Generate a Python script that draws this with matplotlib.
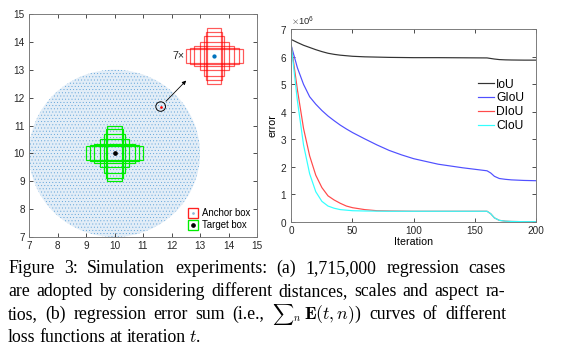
import numpy as np
import matplotlib.pyplot as plt
from matplotlib.patches import Rectangle, Circle
from matplotlib.lines import Line2D
from matplotlib.legend_handler import HandlerTuple
from matplotlib.ticker import ScalarFormatter

plt.rcParams['font.family'] = ['Liberation Sans', 'DejaVu Sans']
plt.rcParams['mathtext.fontset'] = 'cm'
plt.rcParams['hatch.linewidth'] = 0.25

# (a) simulation set-up
cloud_center = (10, 10)
cloud_radius = 3
target_center = (10, 10)
anchor_center = (13.5, 13.5)
ratios = [1/4, 1/3, 1/2, 1, 2, 3, 4]      # w/h, area 1
picked_anchor = (11.62, 11.68)
arrow_tip = (12.58, 12.68)

# (b) regression error sum (x 1e6)
iters = [0, 5, 10, 15, 20, 25, 30, 35, 40, 45, 50, 60, 70, 80, 90, 100,
         120, 140, 160, 163, 166, 170, 175, 180, 190, 200]
err_iou = [6.63, 6.52, 6.42, 6.34, 6.26, 6.19, 6.13, 6.09, 6.06, 6.04, 6.02, 6.0, 5.99, 5.98, 5.975, 5.97,
           5.97, 5.965, 5.96, 5.94, 5.92, 5.9, 5.89, 5.885, 5.88, 5.88]
err_giou = [6.4, 5.6, 5.0, 4.55, 4.28, 4.05, 3.85, 3.68, 3.52, 3.38, 3.25, 3.02, 2.8, 2.6, 2.44, 2.3,
            2.1, 1.97, 1.86, 1.78, 1.66, 1.58, 1.55, 1.53, 1.51, 1.5]
err_diou = [6.4, 4.8, 3.4, 2.4, 1.7, 1.25, 0.95, 0.8, 0.68, 0.58, 0.52, 0.45, 0.41, 0.4, 0.395, 0.39,
            0.39, 0.39, 0.39, 0.3, 0.15, 0.06, 0.03, 0.02, 0.012, 0.01]
err_ciou = [6.4, 4.4, 2.8, 1.75, 1.1, 0.75, 0.58, 0.5, 0.45, 0.43, 0.41, 0.4, 0.395, 0.39, 0.39, 0.39,
            0.39, 0.39, 0.39, 0.3, 0.15, 0.06, 0.03, 0.02, 0.012, 0.01]

W, H, DPI = 568, 348, 96
fig = plt.figure(figsize=(W/DPI, H/DPI), dpi=DPI)

def style(ax):
    ax.tick_params(direction='in', top=True, right=True, length=3, width=0.6,
                   labelsize=7.5, pad=3, colors='#262626')
    for s in ax.spines.values():
        s.set_color('#777777')
        s.set_linewidth(0.7)

# ---- left panel
ax1 = fig.add_axes([29/W, 1-237/H, 228/W, 223/H])
cloud = Circle(cloud_center, cloud_radius, facecolor='#e2edf7', edgecolor='#4a97d4',
               lw=0, hatch='.....')
ax1.add_patch(cloud)
for r in ratios:
    w, h = np.sqrt(r), 1/np.sqrt(r)
    ax1.add_patch(Rectangle((target_center[0]-w/2, target_center[1]-h/2), w, h,
                            fill=False, ec='#00ee00', lw=0.9))
    ax1.add_patch(Rectangle((anchor_center[0]-w/2, anchor_center[1]-h/2), w, h,
                            fill=False, ec='#ff0000', lw=0.9, alpha=0.65))
ax1.plot(*target_center, 'o', color='k', ms=2.5)
ax1.plot(*anchor_center, 'o', color='#0072BD', ms=2.2)
ax1.add_patch(Circle(picked_anchor, 0.17, fill=False, ec='k', lw=0.7))
ax1.plot(*picked_anchor, 'o', color='r', ms=1)
ax1.annotate('', xy=arrow_tip, xytext=(picked_anchor[0]+0.12, picked_anchor[1]+0.12),
             arrowprops=dict(arrowstyle='-|>', color='k', lw=0.6, mutation_scale=6))
ax1.text(12.45, 13.5, '7×', ha='right', va='center', fontsize=8, color='#262626')
ax1.set_xlim(7, 15)
ax1.set_ylim(7, 15)
ax1.set_xticks(range(7, 16))
ax1.set_yticks(range(7, 16))
style(ax1)
h_anchor = (Line2D([], [], ls='none', marker='s', ms=7, color='#ff2020', mfc='none',
                   mec='#ff2020', mew=1.0),
            Line2D([], [], ls='none', marker='o', ms=1, color='#8fb8d8'))
h_target = (Line2D([], [], ls='none', marker='s', ms=7, color='#00ee00', mfc='none',
                   mec='#00ee00', mew=1.0),
            Line2D([], [], ls='none', marker='o', ms=2.5, color='k'))
ax1.legend([h_anchor, h_target], ['Anchor box', 'Target box'],
           handler_map={tuple: HandlerTuple(ndivide=1)},
           loc='lower right', frameon=False, fontsize=7.2, handlelength=1,
           handletextpad=0.4, labelspacing=0.2, borderaxespad=0.3)

# ---- right panel
ax2 = fig.add_axes([291.3/W, 1-222/H, 244.7/W, 192.7/H])
ax2.plot(iters, np.array(err_iou)*1e6, color='#333333', lw=0.9, label='IoU')
ax2.plot(iters, np.array(err_giou)*1e6, color='#5050ff', lw=0.9, label='GIoU')
ax2.plot(iters, np.array(err_diou)*1e6, color='#ff4a4a', lw=0.9, label='DIoU')
ax2.plot(iters, np.array(err_ciou)*1e6, color='#33ffff', lw=0.9, label='CIoU')
ax2.set_xlim(0, 200)
ax2.set_ylim(0, 7e6)
ax2.set_xticks([0, 50, 100, 150, 200])
fmt = ScalarFormatter(useMathText=True)
fmt.set_powerlimits((0, 0))
ax2.yaxis.set_major_formatter(fmt)
style(ax2)
ax2.yaxis.get_offset_text().set_fontsize(7)
ax2.set_xlabel('Iteration', fontsize=8, labelpad=1)
ax2.set_ylabel('error', fontsize=8, labelpad=2)
ax2.legend(loc='upper left', bbox_to_anchor=(0.72, 0.8), frameon=False, fontsize=9,
           handlelength=1.3, handletextpad=0.2, labelspacing=0.15)

# ---- caption
fig.canvas.draw()
rend = fig.canvas.get_renderer()
serif = ['Liberation Serif', 'DejaVu Serif']
BASE = 13.3

def put_line(words, ybase, x0, x1=None):
    groups = []
    for w in words:
        parts = w if isinstance(w, list) else [w]
        items = []
        for p in parts:
            s, fs = (p, BASE) if isinstance(p, str) else p
            t = fig.text(0, 1-ybase/H, s, fontsize=fs, family=serif, va='baseline')
            items.append((t, t.get_window_extent(rend).width))
        groups.append(items)
    glue = 2.5
    gw = [sum(w for _, w in g) + glue*(len(g)-1) for g in groups]
    gap = 4.0 if x1 is None else (x1 - x0 - sum(gw)) / (len(groups)-1)
    x = x0
    for g, width in zip(groups, gw):
        xx = x
        for t, w in g:
            t.set_x(xx/W)
            xx += w + glue
        x += width + gap

put_line(['Figure', '3:', 'Simulation', 'experiments:', '(a)', '1,715,000', 'regression', 'cases'],
         273, 8, 506)
put_line(['are', 'adopted', 'by', 'considering', 'different', 'distances,', 'scales', 'and',
          'aspect', 'ra-'], 296.5, 8, 505)
put_line(['tios,', '(b)', 'regression', 'error', 'sum', '(i.e.,',
          [(r'${\sum}_n$', 11), r'$\mathbf{E}(t,n)$)'], 'curves', 'of', 'different'], 319, 8, 506)
put_line(['loss', 'functions', 'at', 'iteration', r'$t$.'], 341.5, 8)

fig.savefig('out.png', dpi=DPI)
